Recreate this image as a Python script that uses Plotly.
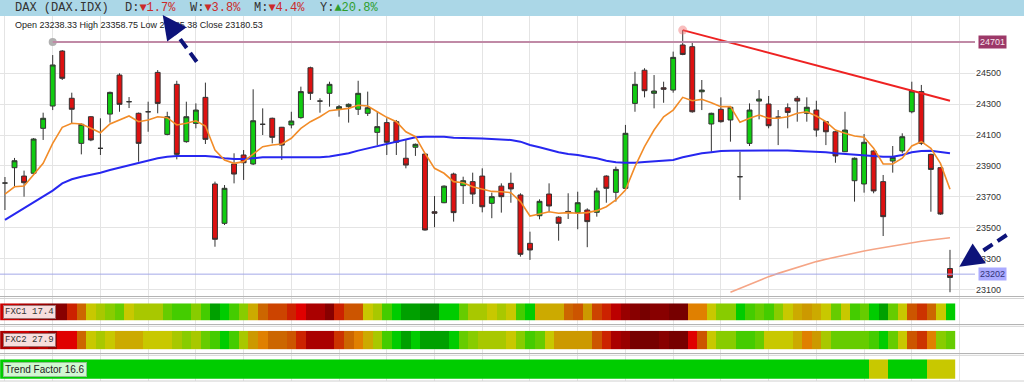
import plotly.graph_objects as go

W, H = 1024, 383
def px(x): return x / W
def py(y): return 1 - y / H

# ---------------- data ----------------
opens = [23790, 23889, 23835, 23853, 24143, 24287, 24642, 24337, 24046, 24218,
         24014, 24235, 24487, 24315, 24240, 24250, 24504, 24104, 24427, 24057,
         24175, 24343, 23784, 23530, 23913, 23971, 23913, 24169, 24208, 24150,
         24165, 24212, 24534, 24319, 24369, 24268, 24283, 24266, 24240, 24117,
         24180, 24186, 23950, 24021, 23977, 23605, 23663, 23848, 23773, 23799,
         23835, 23659, 23770, 23788, 23713, 23401, 23579, 23719, 23570, 23607,
         23599, 23616, 23601, 23835, 23730, 23756, 24304, 24518, 24369, 24405,
         24390, 24681, 24670, 24379, 24171, 24266, 24197, 23831, 24046, 24319,
         24300, 24215, 24276, 24337, 24240, 24261, 24186, 24121, 23992, 23805,
         23784, 23997, 23799, 23932, 23997, 24250, 24380, 23975, 23889, 23238.33]
highs = [23829, 23952, 23870, 24080, 24244, 24616, 24648, 24373, 24175, 24222,
         24208, 24380, 24498, 24345, 24245, 24315, 24519, 24250, 24450, 24315,
         24304, 24438, 23799, 23777, 23982, 24003, 24395, 24272, 24212, 24152,
         24250, 24412, 24541, 24337, 24444, 24294, 24304, 24450, 24380, 24250,
         24208, 24197, 24068, 24045, 23980, 23706, 23775, 23857, 23831, 23857,
         23885, 23728, 23788, 23857, 23724, 23476, 23685, 23788, 23575, 23724,
         23734, 23627, 23760, 23840, 23896, 24165, 24508, 24531, 24487, 24444,
         24638, 24777, 24696, 24455, 24244, 24343, 24285, 23992, 24304, 24390,
         24352, 24261, 24304, 24352, 24343, 24321, 24190, 24125, 24250, 23955,
         24106, 24000, 23842, 24029, 24111, 24444, 24423, 23980, 23890, 23358.75]
lows = [23616, 23765, 23702, 23845, 24068, 24261, 24455, 24175, 23975, 24060,
        23971, 24180, 24250, 24274, 23928, 24121, 24240, 24098, 23943, 24050,
        24143, 24042, 23379, 23519, 23788, 23810, 23906, 24100, 24046, 23939,
        24143, 24205, 24326, 24244, 24283, 24218, 24180, 24229, 24223, 24035,
        23971, 23971, 23885, 23965, 23483, 23505, 23660, 23541, 23655, 23655,
        23601, 23563, 23599, 23663, 23315, 23294, 23556, 23605, 23418, 23558,
        23492, 23376, 23573, 23663, 23670, 23750, 24250, 24343, 24272, 24308,
        24373, 24615, 24244, 24261, 23992, 24180, 24057, 23681, 24029, 24201,
        24143, 24035, 24143, 24186, 24186, 24089, 24035, 23921, 23990, 23670,
        23728, 23724, 23448, 23857, 23982, 24240, 24035, 23605, 23585, 23085.38]
closes = [23790, 23934, 23792, 24074, 24208, 24552, 24466, 24266, 24169, 24068,
          24014, 24375, 24298, 24315, 24046, 24250, 24304, 24218, 23975, 24218,
          24261, 24072, 23427, 23756, 23848, 23921, 24192, 24169, 24085, 24035,
          24190, 24380, 24369, 24319, 24427, 24283, 24298, 24369, 24276, 24154,
          24053, 24053, 23906, 24040, 23487, 23595, 23770, 23599, 23805, 23719,
          23637, 23702, 23702, 23752, 23330, 23358, 23672, 23642, 23530, 23603,
          23663, 23541, 23739, 23756, 23878, 24111, 24427, 24386, 24384, 24395,
          24601, 24620, 24250, 24390, 24240, 24186, 24279, 23831, 24261, 24332,
          24160, 24215, 24246, 24319, 24279, 24132, 24121, 23965, 24132, 23950,
          24053, 23739, 23573, 23956, 24089, 24384, 24046, 23878, 23590, 23180.53]

ma_fast = [23719, 23766, 23771, 23842, 23917, 24046, 24150, 24176, 24171, 24143,
           24115, 24171, 24197, 24223, 24186, 24197, 24218, 24212, 24165, 24176,
           24192, 24158, 24003, 23939, 23917, 23928, 23977, 24025, 24036, 24042,
           24079, 24143, 24186, 24218, 24257, 24266, 24272, 24292, 24287, 24250,
           24214, 24186, 24121, 24089, 23982, 23885, 23853, 23799, 23792, 23766,
           23752, 23736, 23734, 23728, 23670, 23577, 23590, 23605, 23595, 23599,
           23595, 23599, 23612, 23637, 23681, 23745, 23896, 24025, 24132, 24218,
           24261, 24343, 24321, 24330, 24308, 24283, 24283, 24182, 24208, 24229,
           24208, 24208, 24218, 24240, 24250, 24223, 24186, 24132, 24111, 24094,
           24085, 24014, 23913, 23913, 23950, 24029, 24057, 24014, 23917, 23750]
ma_mid = [23552, 23590, 23627, 23663, 23702, 23741, 23788, 23814, 23831, 23842,
          23857, 23874, 23889, 23906, 23921, 23934, 23950, 23960, 23965, 23965,
          23965, 23965, 23960, 23950, 23945, 23945, 23950, 23956, 23956, 23956,
          23956, 23956, 23956, 23956, 23961, 23971, 23982, 23999, 24014, 24029,
          24042, 24057, 24072, 24085, 24089, 24089, 24089, 24083, 24079, 24079,
          24077, 24074, 24072, 24068, 24057, 24036, 24021, 24003, 23989, 23977,
          23971, 23960, 23950, 23934, 23924, 23921, 23921, 23926, 23930, 23934,
          23939, 23956, 23971, 23982, 23989, 23997, 23999, 23999, 24001, 24003,
          24003, 24003, 24000, 23997, 23995, 23992, 23989, 23982, 23977, 23971,
          23968, 23965, 23960, 23960, 23971, 23989, 23997, 23999, 23992, 23982]
ma_slow_start = 76
ma_slow = [23085, 23111, 23136, 23161, 23186, 23207, 23227, 23246, 23265, 23283,
           23298, 23312, 23325, 23339, 23352, 23363, 23374, 23385, 23395, 23405,
           23414, 23422, 23430, 23437]

trend_x = [71, 99]
trend_y = [24777, 24321]
level_high_x = 5
level_high = 24701
level_last = 23202

y_ticks = [23100, 23300, 23500, 23700, 23900, 24100, 24300, 24500]

# heat strip levels (index into palette)
fxc1 = [5, 5, 3, 3, 2, 1, 1, 7, 11, 15,
        16, 17, 18, 15, 16, 16, 16, 18, 19, 19,
        17, 19, 22, 20, 19, 17, 14, 11, 9, 9,
        7, 6, 3, 3, 1, 7, 10, 10, 15, 16,
        19, 20, 22, 22, 23, 23, 20, 20, 18, 16,
        16, 15, 16, 15, 19, 20, 14, 14, 14, 11,
        10, 13, 9, 7, 4, 2, 1, 0, 1, 1,
        0, 0, 12, 12, 15, 17, 17, 20, 19, 18,
        19, 17, 15, 14, 13, 14, 15, 18, 15, 19,
        18, 20, 22, 18, 15, 10, 8, 11, 15, 20]
fxc2 = [3, 5, 5, 3, 4, 2, 6, 6, 11, 15,
        16, 15, 14, 14, 14, 15, 15, 15, 16, 17,
        16, 18, 19, 20, 19, 16, 13, 12, 11, 11,
        10, 7, 3, 3, 3, 8, 11, 12, 14, 16,
        19, 20, 22, 20, 22, 22, 22, 20, 18, 17,
        16, 16, 16, 15, 17, 19, 18, 15, 13, 13,
        13, 13, 10, 7, 3, 2, 0, 0, 0, 1,
        0, 0, 6, 10, 15, 17, 17, 19, 19, 18,
        15, 15, 15, 14, 12, 13, 16, 18, 18, 18,
        18, 19, 20, 18, 15, 10, 8, 12, 17, 18]
trend_factor = [20] * 91 + [15, 15, 20, 20, 20, 20, 15, 15, 15]
fxc1_value, fxc2_value, trend_value = 17.4, 27.9, 16.6

palette = ['#770000', '#880000', '#990000', '#aa0000', '#bb0000', '#cc0000',
           '#e00000', '#cc2200', '#cc3300', '#cc4400', '#cc5500', '#cc6600',
           '#e08000', '#cc9900', '#ccaa00', '#c8c800', '#a8c800', '#88cc00',
           '#66cc00', '#44cc00', '#00cc00', '#00bb00', '#00a000', '#008800']

n = len(closes)
idx = list(range(n))

# ---------------- layout geometry ----------------
x_range = [-0.52, 101.62]
plot_right = 975

fig = go.Figure()
fig.add_trace(go.Candlestick(
    x=idx, open=opens, high=highs, low=lows, close=closes,
    increasing=dict(fillcolor='#11cc11', line=dict(color='#333333', width=1)),
    decreasing=dict(fillcolor='#dd1111', line=dict(color='#333333', width=1)),
    whiskerwidth=0, showlegend=False, hoverinfo='skip', xaxis='x', yaxis='y'))

fig.add_trace(go.Scatter(x=idx, y=ma_mid, mode='lines', line=dict(color='#2727f0', width=2),
                         showlegend=False, hoverinfo='skip'))
fig.add_trace(go.Scatter(x=idx, y=ma_fast, mode='lines', line=dict(color='#f28c28', width=1.6),
                         showlegend=False, hoverinfo='skip'))
fig.add_trace(go.Scatter(x=list(range(ma_slow_start, ma_slow_start + len(ma_slow))), y=ma_slow,
                         mode='lines', line=dict(color='#f5a586', width=1.6),
                         showlegend=False, hoverinfo='skip'))
fig.add_trace(go.Scatter(x=trend_x, y=trend_y, mode='lines', line=dict(color='#ee2222', width=2),
                         showlegend=False, hoverinfo='skip'))
fig.add_trace(go.Scatter(x=trend_x[:1], y=trend_y[:1], mode='markers',
                         marker=dict(color='rgba(240,110,110,0.45)', size=9),
                         showlegend=False, hoverinfo='skip'))
fig.add_trace(go.Scatter(x=[level_high_x], y=[level_high], mode='markers',
                         marker=dict(color='#b0b0b0', size=8),
                         showlegend=False, hoverinfo='skip'))

# grid-carrier subplot for bottom panel
fig.add_trace(go.Scatter(x=[0], y=[0], mode='markers', marker=dict(opacity=0),
                         xaxis='x', yaxis='y2', showlegend=False, hoverinfo='skip'))

n_pal = len(palette)
cs = [[i / (n_pal - 1), c] for i, c in enumerate(palette)]
for z, ya in [(fxc1, 'y3'), (fxc2, 'y4'), (trend_factor, 'y5')]:
    fig.add_trace(go.Heatmap(z=[z], x=idx, y=[0], colorscale=cs, zmin=0, zmax=n_pal - 1,
                             showscale=False, hoverinfo='skip', xaxis='x', yaxis=ya))

shapes = []
# header bar
shapes.append(dict(type='rect', xref='paper', yref='paper', x0=0, x1=1, y0=py(16), y1=1,
                   fillcolor='#abd7e7', line=dict(width=0), layer='below'))
# level lines
shapes.append(dict(type='line', xref='x', yref='y', x0=level_high_x, x1=x_range[1],
                   y0=level_high, y1=level_high, line=dict(color='#c08aa6', width=2)))
shapes.append(dict(type='line', xref='x domain', yref='y', x0=0, x1=1,
                   y0=level_last, y1=level_last, line=dict(color='#a4a8e8', width=1)))
# panel separators
for yy, col in [(296.5, '#b4b4b4'), (298.5, '#d4d4d4'), (324.5, '#b4b4b4'), (326.3, '#d4d4d4'),
                (353.5, '#b4b4b4'), (355.3, '#d4d4d4'), (381, '#d0d0d0')]:
    shapes.append(dict(type='line', xref='paper', yref='paper', x0=0, x1=1, y0=py(yy), y1=py(yy),
                       line=dict(color=col, width=1)))
# dashed arrow shafts
navy = '#0d137a'
shapes.append(dict(type='line', xref='paper', yref='paper', x0=px(196.7), y0=py(61.7),
                   x1=px(171), y1=py(26.5), line=dict(color=navy, width=4, dash='11px,6px')))
shapes.append(dict(type='line', xref='paper', yref='paper', x0=px(1006.7), y0=py(235),
                   x1=px(972), y1=py(258), line=dict(color=navy, width=4, dash='11px,6px')))

mono = 'Liberation Mono'
sans = 'Liberation Sans'
ann = []
def hdr(x, text):
    ann.append(dict(xref='paper', yref='paper', x=px(x), y=py(8.5), xanchor='left', yanchor='middle',
                    text=text, showarrow=False, font=dict(family=mono, size=12, color='#333333')))
red = '#cc2a2a'
green = '#2e9e2e'
hdr(13, 'DAX (DAX.IDX)')
hdr(123, f"D:<span style='color:{red}'>▼1.7%</span>")
hdr(188, f"W:<span style='color:{red}'>▼3.8%</span>")
hdr(252, f"M:<span style='color:{red}'>▼4.4%</span>")
hdr(318, f"Y:<span style='color:{green}'>▲20.8%</span>")

info = (f'Open {opens[-1]:.2f} High {highs[-1]:.2f} '
        f'Low {lows[-1]:.2f} Close {closes[-1]:.2f}')
ann.append(dict(xref='paper', yref='paper', x=px(13), y=py(24.5), xanchor='left', yanchor='middle',
                text=info, showarrow=False, font=dict(family=sans, size=9, color='#222222')))

# level labels
ann.append(dict(xref='paper', yref='y', x=px(978), y=level_high, xanchor='left', yanchor='middle',
                text=f'{level_high}', showarrow=False, bgcolor='#9c3868', borderpad=1,
                font=dict(family=sans, size=9, color='#f4e4ec')))
ann.append(dict(xref='paper', yref='y', x=px(978), y=level_last, xanchor='left', yanchor='middle',
                text=f'{level_last}', showarrow=False, bgcolor='#aaaaff', borderpad=1,
                font=dict(family=sans, size=9, color='#333377')))

# strip labels
ann.append(dict(xref='paper', yref='paper', x=px(3), y=py(312), xanchor='left', yanchor='middle',
                text=f'FXC1 {fxc1_value}', showarrow=False, bgcolor='#f7dede', bordercolor='#a07070',
                borderwidth=1, borderpad=1, font=dict(family=mono, size=9, color='#333333')))
ann.append(dict(xref='paper', yref='paper', x=px(3), y=py(340), xanchor='left', yanchor='middle',
                text=f'FXC2 {fxc2_value}', showarrow=False, bgcolor='#f7dede', bordercolor='#a07070',
                borderwidth=1, borderpad=1, font=dict(family=mono, size=9, color='#333333')))
ann.append(dict(xref='paper', yref='paper', x=px(3), y=py(369.5), xanchor='left', yanchor='middle',
                text=f'Trend Factor {trend_value}', showarrow=False, bgcolor='#d2f7d2', bordercolor='#90c090',
                borderwidth=1, borderpad=1, font=dict(family=sans, size=10, color='#222222')))

# arrow heads
ann.append(dict(xref='paper', yref='paper', x=px(162.7), y=py(15), ax=10.6, ay=14.5, text='',
                showarrow=True, arrowhead=2, arrowsize=1.2, arrowwidth=4, arrowcolor=navy))
ann.append(dict(xref='paper', yref='paper', x=px(959.3), y=py(266.7), ax=15, ay=-10, text='',
                showarrow=True, arrowhead=2, arrowsize=1.2, arrowwidth=4, arrowcolor=navy))

grid = '#e4e4e4'
fig.update_layout(
    width=W, height=H, margin=dict(l=0, r=0, t=0, b=0),
    paper_bgcolor='white', plot_bgcolor='white', boxgap=0.27,
    font=dict(family=sans, size=9, color='#333333'),
    showlegend=False, shapes=shapes, annotations=ann,
    xaxis=dict(domain=[0, plot_right / W], range=x_range, showgrid=True, gridcolor=grid,
               tick0=0, dtick=5, showticklabels=False, ticks='', zeroline=False,
               showline=False, rangeslider=dict(visible=False), fixedrange=True),
    yaxis=dict(domain=[py(296), py(16)], range=[23061, 24868], side='right', tickvals=y_ticks,
               tickformat='d', showgrid=True, gridcolor=grid, zeroline=False, ticks='', showline=False,
               tickfont=dict(family=sans, size=9, color='#333333'), fixedrange=True),
    yaxis2=dict(domain=[py(381), py(296)], range=[-1, 1], visible=False, fixedrange=True),
    yaxis3=dict(domain=[py(320.7), py(303.3)], range=[-0.5, 0.5], visible=False, fixedrange=True),
    yaxis4=dict(domain=[py(349.3), py(330.7)], range=[-0.5, 0.5], visible=False, fixedrange=True),
    yaxis5=dict(domain=[py(378.8), py(359.3)], range=[-0.5, 0.5], visible=False, fixedrange=True),
)

fig.write_html('out.html')
